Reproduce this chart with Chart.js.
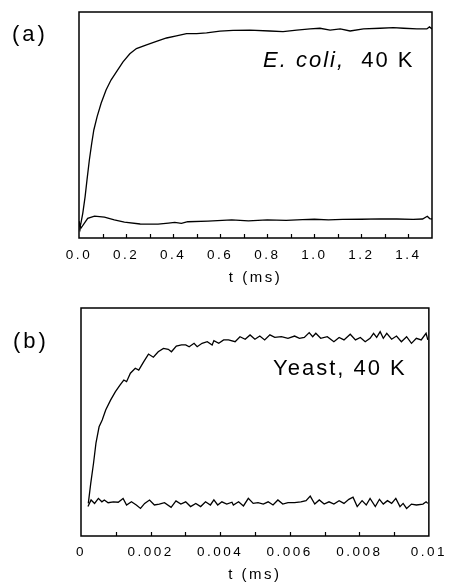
<!DOCTYPE html>
<html>
<head>
<meta charset="utf-8">
<script src="https://cdn.jsdelivr.net/npm/chart.js@4.4.1/dist/chart.umd.min.js"></script>
<style>
  html, body { margin: 0; padding: 0; background: #fff; overflow: hidden; }
  #wrapA { position: absolute; left: 0; top: 0; width: 450px; height: 290px; }
  #wrapB { position: absolute; left: 0; top: 290px; width: 450px; height: 292px; }
</style>
</head>
<body>
<div id="wrapA"><canvas id="chartA" width="450" height="290"></canvas></div>
<div id="wrapB"><canvas id="chartB" width="450" height="292"></canvas></div>
<script>
// (a) E. coli, 40 K -- time in ms, signal in arbitrary units (0-100 = box height)
const tUpperA = [0.000, 0.004, 0.008, 0.016, 0.026, 0.034, 0.044, 0.054, 0.063, 0.077, 0.094, 0.115, 0.136, 0.159, 0.187, 0.216, 0.244, 0.287, 0.329, 0.372, 0.414, 0.457, 0.500, 0.542, 0.599, 0.655, 0.726, 0.811, 0.867, 0.925, 0.982, 1.024, 1.067, 1.110, 1.152, 1.209, 1.280, 1.336, 1.379, 1.436, 1.478, 1.489, 1.500];
const upperA  = [6.5, 4.8, 6.5, 10.9, 18.3, 25.7, 34.5, 41.9, 47.8, 53.7, 59.6, 65.5, 69.9, 73.5, 77.9, 81.5, 83.8, 85.5, 87.0, 88.5, 89.4, 90.4, 90.4, 90.8, 91.5, 91.9, 92.0, 91.6, 91.3, 92.0, 92.5, 92.8, 92.0, 92.5, 91.6, 92.5, 92.8, 93.1, 92.8, 92.5, 92.5, 93.4, 92.5];
const tLowerA = [0.000, 0.008, 0.037, 0.066, 0.108, 0.150, 0.193, 0.260, 0.336, 0.380, 0.407, 0.435, 0.462, 0.548, 0.649, 0.720, 0.800, 0.880, 0.950, 1.000, 1.060, 1.120, 1.200, 1.280, 1.350, 1.420, 1.460, 1.480, 1.490, 1.500];
const lowerA  = [7.5, 4.3, 8.7, 9.7, 9.2, 8.0, 7.0, 6.2, 6.1, 6.6, 6.9, 6.5, 7.2, 7.5, 8.0, 7.6, 8.0, 7.8, 8.1, 8.3, 8.0, 8.2, 8.3, 8.5, 8.4, 8.2, 8.4, 9.6, 8.6, 8.4];
const ticksA      = [0.0, 0.2, 0.4, 0.6, 0.8, 1.0, 1.2, 1.4];
const tickLabelsA = ["0.0", "0.2", "0.4", "0.6", "0.8", "1.0", "1.2", "1.4"];
const minorTicksA = [0.1, 0.2, 0.3, 0.4, 0.5, 0.6, 0.7, 0.8, 0.9, 1.0, 1.1, 1.2, 1.3, 1.4];

// (b) Yeast, 40 K
const tUpperB = [0.00021, 0.00028, 0.00036, 0.00043, 0.00052, 0.00061, 0.00071, 0.00085, 0.00099, 0.00112, 0.00123, 0.00131, 0.00142, 0.00156, 0.00166, 0.00180, 0.00194, 0.00208, 0.00222, 0.00237, 0.00251, 0.00260, 0.00274, 0.00289, 0.00301, 0.00311, 0.00325, 0.00334, 0.00348, 0.00363, 0.00377, 0.00382, 0.00396, 0.00410, 0.00424, 0.00443, 0.00457, 0.00472, 0.00486, 0.00500, 0.00514, 0.00528, 0.00543, 0.00557, 0.00576, 0.00595, 0.00614, 0.00628, 0.00642, 0.00656, 0.00666, 0.00675, 0.00689, 0.00708, 0.00727, 0.00742, 0.00756, 0.00774, 0.00789, 0.00803, 0.00817, 0.00831, 0.00841, 0.00850, 0.00860, 0.00869, 0.00879, 0.00893, 0.00907, 0.00921, 0.00936, 0.00950, 0.00964, 0.00978, 0.00992, 0.00997];
const upperB  = [14.3, 23.1, 31.9, 40.7, 47.9, 50.9, 55.3, 59.6, 63.3, 66.2, 68.4, 67.7, 71.4, 73.6, 72.8, 76.4, 79.8, 78.4, 80.8, 82.3, 81.9, 80.8, 83.3, 83.8, 83.8, 83.0, 84.5, 83.0, 84.5, 85.2, 83.8, 85.7, 84.5, 86.0, 86.0, 85.2, 87.4, 86.3, 88.2, 86.3, 87.7, 86.0, 88.2, 87.1, 87.4, 86.7, 87.7, 86.7, 87.1, 89.2, 87.4, 88.9, 86.7, 87.4, 85.2, 87.1, 86.0, 88.5, 86.0, 87.1, 85.2, 86.7, 88.9, 87.1, 89.6, 86.7, 88.9, 86.3, 87.7, 85.2, 87.4, 84.5, 86.7, 86.0, 88.9, 86.0];
const tLowerB = [0.00020, 0.00029, 0.00039, 0.00050, 0.00060, 0.00067, 0.00078, 0.00093, 0.00107, 0.00121, 0.00131, 0.00145, 0.00159, 0.00171, 0.00183, 0.00197, 0.00211, 0.00225, 0.00240, 0.00259, 0.00273, 0.00287, 0.00301, 0.00315, 0.00330, 0.00344, 0.00358, 0.00372, 0.00382, 0.00393, 0.00405, 0.00419, 0.00434, 0.00438, 0.00453, 0.00467, 0.00481, 0.00495, 0.00509, 0.00524, 0.00538, 0.00552, 0.00566, 0.00580, 0.00595, 0.00614, 0.00632, 0.00647, 0.00659, 0.00672, 0.00685, 0.00699, 0.00713, 0.00727, 0.00742, 0.00756, 0.00770, 0.00782, 0.00794, 0.00808, 0.00820, 0.00831, 0.00846, 0.00858, 0.00869, 0.00881, 0.00893, 0.00905, 0.00917, 0.00926, 0.00936, 0.00950, 0.00964, 0.00983, 0.00992, 0.00997];
const lowerB  = [12.9, 15.8, 14.3, 16.5, 15.0, 15.8, 14.6, 15.0, 14.8, 16.5, 13.6, 15.0, 13.6, 12.1, 14.3, 15.8, 13.6, 14.0, 14.6, 12.6, 15.4, 14.0, 15.0, 12.9, 14.3, 12.9, 15.0, 13.6, 15.8, 13.6, 15.0, 14.0, 14.8, 13.6, 15.0, 13.2, 16.5, 14.3, 14.6, 14.0, 15.0, 13.6, 15.8, 14.0, 14.6, 14.6, 15.0, 15.5, 17.5, 14.0, 15.8, 14.0, 15.0, 14.0, 15.5, 14.3, 16.1, 17.0, 12.9, 15.5, 13.6, 16.5, 12.9, 16.1, 14.0, 15.5, 14.3, 16.5, 12.9, 14.3, 12.1, 14.0, 13.6, 14.0, 15.0, 14.3];
const ticksB      = [0, 0.002, 0.004, 0.006, 0.008, 0.01];
const tickLabelsB = ["0", "0.002", "0.004", "0.006", "0.008", "0.01"];
const minorTicksB = [0.001, 0.002, 0.003, 0.004, 0.005, 0.006, 0.007, 0.008, 0.009];

Chart.defaults.font.family = '"Liberation Sans", Arial, sans-serif';
Chart.defaults.color = "#000";

const FONT = '"Liberation Sans", Arial, sans-serif';

// box, inward ticks and the panel texts
const framePlugin = {
  id: "frame",
  beforeDraw(chart) {
    chart.ctx.letterSpacing = "2.5px";
  },
  afterDraw(chart, args, opts) {
    const ctx = chart.ctx;
    const a = chart.chartArea;
    const x = chart.scales.x;
    ctx.save();
    ctx.letterSpacing = "0px";
    ctx.strokeStyle = "#000";
    ctx.lineWidth = 1.5;
    ctx.strokeRect(a.left, a.top, a.right - a.left, a.bottom - a.top);
    ctx.lineWidth = 1.2;
    ctx.beginPath();
    opts.minorTicks.forEach(v => {
      const px = Math.round(x.getPixelForValue(v)) + 0.5;
      ctx.moveTo(px, a.bottom);
      ctx.lineTo(px, a.bottom - 4);
    });
    ctx.stroke();

    ctx.fillStyle = "#000";
    ctx.textAlign = "left";
    ctx.textBaseline = "alphabetic";
    ctx.font = "22px " + FONT;
    ctx.letterSpacing = "3px";
    ctx.fillText(opts.letter, opts.letterX, opts.letterY);
    ctx.letterSpacing = "2px";
    let cx = opts.noteX;
    opts.note.forEach(p => {
      ctx.font = (p.italic ? "italic " : "") + "22px " + FONT;
      ctx.fillText(p.text, cx, opts.noteY);
      cx += ctx.measureText(p.text).width;
    });
    ctx.restore();
  }
};

function pairs(ts, ys) {
  return ts.map((t, i) => ({ x: t, y: ys[i] }));
}

function makeChart(id, cfg) {
  return new Chart(document.getElementById(id), {
    type: "line",
    data: {
      datasets: [
        { data: pairs(cfg.tUp, cfg.up), borderColor: "#000", borderWidth: 1.3, pointRadius: 0, tension: 0, fill: false },
        { data: pairs(cfg.tLo, cfg.lo), borderColor: "#000", borderWidth: 1.3, pointRadius: 0, tension: 0, fill: false },
      ],
    },
    options: {
      responsive: false,
      animation: false,
      layout: { padding: cfg.padding },
      plugins: {
        legend: { display: false },
        tooltip: { enabled: false },
        frame: cfg.frame,
      },
      scales: {
        x: {
          type: "linear",
          min: cfg.xMin,
          max: cfg.xMax,
          grid: { display: false, drawTicks: false },
          border: { display: false },
          afterBuildTicks: s => { s.ticks = cfg.ticks.map(v => ({ value: v })); },
          afterFit: s => { s.height = cfg.axisHeight; },
          ticks: {
            autoSkip: false,
            maxRotation: 0,
            padding: cfg.tickPad,
            font: { size: 13.5 },
            color: "#000",
            callback: (v, i) => cfg.tickLabels[i],
          },
          title: {
            display: true,
            text: "t (ms)",
            color: "#000",
            font: { size: 15, lineHeight: 1 },
            padding: { top: 0, bottom: cfg.titlePad },
          },
        },
        y: { display: false, min: 0, max: 100 },
      },
    },
    plugins: [framePlugin],
  });
}

makeChart("chartA", {
  tUp: tUpperA, up: upperA, tLo: tLowerA, lo: lowerA,
  xMin: 0, xMax: 1.5,
  ticks: ticksA, tickLabels: tickLabelsA,
  padding: { left: 79, right: 18, top: 12, bottom: 0 },
  axisHeight: 52, tickPad: 9, titlePad: 4.5,
  frame: {
    minorTicks: minorTicksA,
    letter: "(a)", letterX: 12, letterY: 41,
    note: [{ text: "E. coli,", italic: true }, { text: "  40 K", italic: false }],
    noteX: 263, noteY: 67,
  },
});

makeChart("chartB", {
  tUp: tUpperB, up: upperB, tLo: tLowerB, lo: lowerB,
  xMin: 0, xMax: 0.01,
  ticks: ticksB, tickLabels: tickLabelsB,
  padding: { left: 81, right: 17, top: 18, bottom: 0 },
  axisHeight: 46, tickPad: 8, titlePad: 0,
  frame: {
    minorTicks: minorTicksB,
    letter: "(b)", letterX: 13, letterY: 58,
    note: [{ text: "Yeast, 40 K", italic: false }],
    noteX: 273, noteY: 85,
  },
});
</script>
</body>
</html>
